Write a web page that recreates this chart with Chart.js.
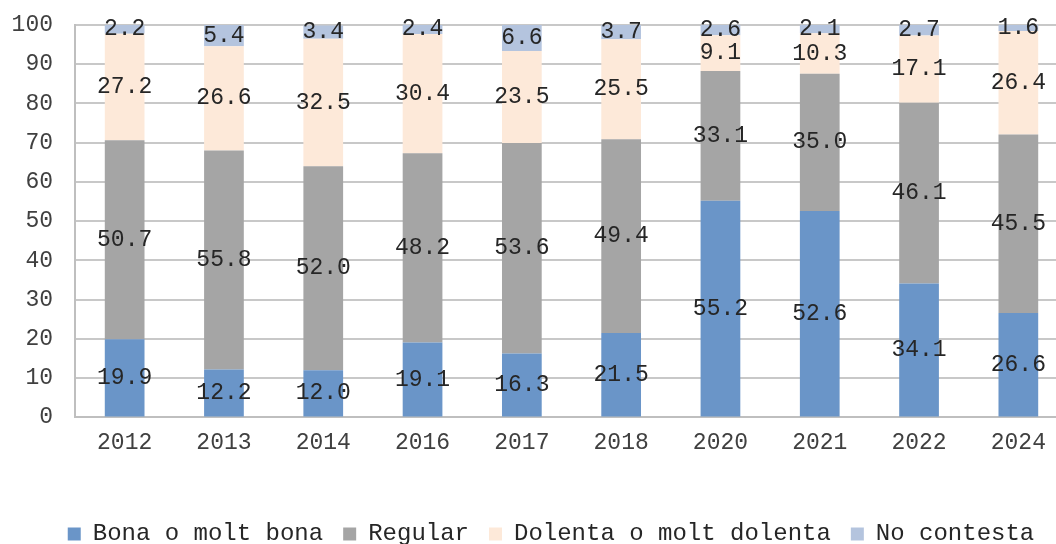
<!DOCTYPE html>
<html>
<head>
<meta charset="utf-8">
<script src="https://cdn.jsdelivr.net/npm/chart.js@4"></script>
<style>
  html, body { margin: 0; padding: 0; background: #ffffff; overflow: hidden; }
  #wrap { width: 1068px; height: 544px; }
</style>
</head>
<body>
<div id="wrap"><canvas id="chart" width="1068" height="544"></canvas></div>
<script>
// anys de l'enquesta
const years = ['2012', '2013', '2014', '2016', '2017', '2018', '2020', '2021', '2022', '2024'];

// percentatges per categoria
const bona     = [19.9, 12.2, 12.0, 19.1, 16.3, 21.5, 55.2, 52.6, 34.1, 26.6];
const regular  = [50.7, 55.8, 52.0, 48.2, 53.6, 49.4, 33.1, 35.0, 46.1, 45.5];
const dolenta  = [27.2, 26.6, 32.5, 30.4, 23.5, 25.5, 9.1, 10.3, 17.1, 26.4];
const noContesta = [2.2, 5.4, 3.4, 2.4, 6.6, 3.7, 2.6, 2.1, 2.7, 1.6];

const seriesNames = ['Bona o molt bona', 'Regular', 'Dolenta o molt dolenta', 'No contesta'];
const seriesColors = ['#6a95c8', '#a5a5a5', '#fde9d9', '#b4c4de'];

const FONT = "'Liberation Mono', 'Courier New', monospace";

// etiquetes al mig de cada segment (no hi ha datalabels, ho fem a mà)
const segmentLabels = {
    id: 'segmentLabels',
    afterDatasetsDraw(chart) {
        const ctx = chart.ctx;
        ctx.save();
        ctx.font = '23px ' + FONT;
        ctx.fillStyle = '#262626';
        ctx.textAlign = 'center';
        ctx.textBaseline = 'middle';
        chart.data.datasets.forEach((ds, i) => {
            const meta = chart.getDatasetMeta(i);
            meta.data.forEach((bar, j) => {
                const y = (bar.y + bar.base) / 2;
                ctx.fillText(ds.data[j].toFixed(1), bar.x, y);
            });
        });
        ctx.restore();
    }
};

// la llegenda va una mica desplaçada (centrada a la finestra, no al canvas)
const moveLegend = {
    id: 'moveLegend',
    afterLayout(chart) {
        const lg = chart.legend;
        lg.left += 17; lg.right += 17;
        lg.top += 12; lg.bottom += 12;
    }
};

const data = [bona, regular, dolenta, noContesta];

new Chart(document.getElementById('chart'), {
    type: 'bar',
    data: {
        labels: years,
        datasets: data.map((d, i) => ({
            label: seriesNames[i],
            data: d,
            backgroundColor: seriesColors[i],
            borderWidth: 0,
            categoryPercentage: 1.0,
            barPercentage: 0.4
        }))
    },
    options: {
        responsive: false,
        animation: false,
        layout: { padding: { left: 0, top: 25, right: 0, bottom: 0 } },
        scales: {
            x: {
                stacked: true,
                afterFit(scale) { scale.height += 21; },
                grid: { display: false, drawTicks: false },
                border: { color: '#bfbfbf', width: 2 },
                ticks: { color: '#404040', font: { family: FONT, size: 23 }, padding: 12 }
            },
            y: {
                stacked: true,
                min: 0,
                max: 100,
                afterFit(scale) { scale.width = 75; scale.paddingTop = 0; scale.paddingBottom = 0; },
                grid: { color: '#c8c8c8', lineWidth: 2, drawTicks: false },
                border: { color: '#bfbfbf', width: 2 },
                ticks: { stepSize: 10, color: '#404040', font: { family: FONT, size: 23 }, padding: 22 }
            }
        },
        plugins: {
            legend: {
                position: 'bottom',
                labels: {
                    color: '#262626',
                    font: { family: FONT, size: 24 },
                    boxWidth: 13,
                    boxHeight: 13,
                    padding: 20
                }
            },
            tooltip: { enabled: false }
        }
    },
    plugins: [segmentLabels, moveLegend]
});
</script>
</body>
</html>
